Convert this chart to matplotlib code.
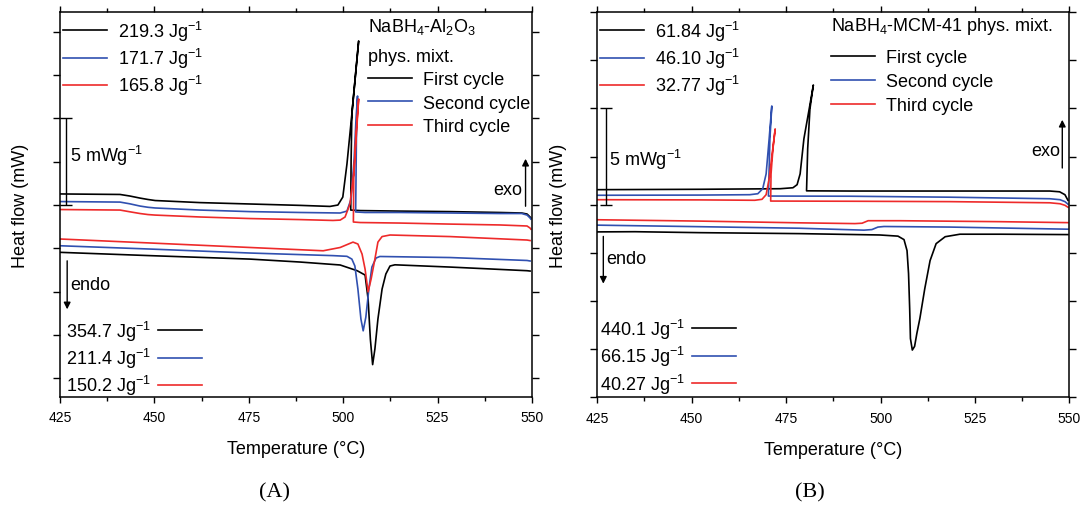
import matplotlib
matplotlib.use('Agg')
import matplotlib.pyplot as plt
from matplotlib.lines import Line2D
from matplotlib.ticker import MultipleLocator
import numpy as np

plt.rcParams['font.family'] = ['Liberation Sans', 'DejaVu Sans']
plt.rcParams['mathtext.fontset'] = 'custom'
plt.rcParams['mathtext.rm'] = 'Liberation Sans'
plt.rcParams['mathtext.it'] = 'Liberation Sans:italic'

BLACK, BLUE, RED = '#000000', '#3050b0', '#ee2a2a'

# ---- (A) NaBH4-Al2O3 : exothermic (cooling) traces, path order ----
a_exo1_T = [425, 440.9, 443.5, 446.2, 448.3, 450.2, 462.1, 475.3, 488.6, 496.5, 498.6, 499.9, 501.0,
            502.3, 504.1, 503.4, 502.3, 502.1, 502.0, 504.5, 515.0, 528.3, 541.5, 547.3, 548.7,
            549.5, 549.7]
a_exo1_v = [0.64, 0.61, 0.52, 0.40, 0.32, 0.26, 0.14, 0.06, -0.02, -0.08, 0.0, 0.46, 2.37,
            5.25, 9.47, 7.85, 5.25, 2.6, -0.29, -0.32, -0.35, -0.38, -0.43, -0.46, -0.52,
            -0.69, -0.75]
a_exo2_T = [425, 440.9, 443.5, 446.2, 448.3, 450.2, 462.1, 475.3, 488.6, 499.2, 501.0, 502.1, 502.9,
            503.4, 503.8, 503.5, 503.4, 503.3, 505.8, 515.0, 528.3, 541.5, 547.3, 548.7, 549.5, 549.7]
a_exo2_v = [0.20, 0.17, 0.07, -0.06, -0.13, -0.17, -0.29, -0.38, -0.43, -0.46, -0.35, 0.35, 2.66,
            4.97, 6.29, 3.81, 1.50, -0.40, -0.43, -0.43, -0.46, -0.49, -0.49, -0.58, -0.75, -0.81]
a_exo3_T = [425, 440.9, 443.5, 446.2, 448.3, 450.2, 462.1, 475.3, 488.6, 497.3, 499.2, 500.5, 501.8,
            502.9, 504.1, 503.3, 502.8, 502.7, 504.5, 515.0, 528.3, 541.5, 548.7, 549.5, 549.7]
a_exo3_v = [-0.26, -0.29, -0.39, -0.49, -0.55, -0.58, -0.69, -0.78, -0.84, -0.89, -0.87, -0.69, 0.06,
            2.08, 6.12, 3.81, 1.50, -0.98, -1.01, -1.04, -1.10, -1.15, -1.21, -1.33, -1.39]
# ---- (A) endothermic (heating) traces ----
a_endo1_T = [425, 448.8, 475.3, 488.6, 499.2, 503.7, 505.8, 506.6, 507.2, 507.8, 508.4, 509.2, 510.3,
             511.3, 512.4, 513.7, 528.3, 548.7, 549.5]
a_endo1_v = [-2.73, -2.92, -3.12, -3.29, -3.46, -3.79, -4.04, -5.43, -7.74, -9.21, -8.31, -6.58, -4.85,
             -3.98, -3.52, -3.45, -3.58, -3.79, -3.81]
a_endo2_T = [425, 448.8, 475.3, 497.3, 501.0, 502.3, 503.1, 503.9, 504.7, 505.3, 506.0, 506.8, 507.6,
             508.7, 509.7, 528.3, 548.7, 549.5]
a_endo2_v = [-2.35, -2.54, -2.77, -2.92, -2.96, -3.12, -3.52, -4.85, -6.58, -7.26, -6.47, -4.85, -3.58,
             -3.06, -2.97, -3.03, -3.20, -3.23]
a_endo3_T = [425, 448.8, 475.3, 494.7, 499.2, 502.6, 503.9, 505.0, 505.8, 506.6, 507.4, 508.4, 509.2,
             510.3, 512.4, 528.3, 548.7, 549.5]
a_endo3_v = [-1.96, -2.19, -2.45, -2.64, -2.45, -2.14, -2.25, -2.83, -3.70, -5.01, -4.27, -3.12, -2.14,
             -1.82, -1.73, -1.82, -2.02, -2.05]

# ---- (B) NaBH4-MCM-41 : exothermic traces ----
b_exo1_T = [425, 452.2, 473.4, 476.8, 477.9, 478.7, 479.7, 481.1, 482.2, 481.3, 480.7, 480.4,
            491.8, 518.3, 544.8, 547.4, 548.8, 549.6]
b_exo1_v = [0.78, 0.80, 0.83, 0.88, 1.04, 1.60, 3.42, 4.97, 6.21, 4.97, 2.90, 0.72,
            0.71, 0.71, 0.71, 0.67, 0.52, 0.23]
b_exo2_T = [425, 452.2, 465.4, 467.5, 468.8, 469.7, 470.5, 471.2, 470.7, 470.5, 470.3,
            491.9, 518.4, 544.8, 547.5, 548.8, 549.6]
b_exo2_v = [0.49, 0.50, 0.52, 0.57, 0.83, 1.60, 3.42, 5.12, 3.42, 1.86, 0.45,
            0.44, 0.39, 0.31, 0.26, 0.16, 0.03]
b_exo3_T = [425, 452.2, 466.7, 468.6, 469.7, 470.5, 471.3, 472.1, 471.5, 471.0, 470.9,
            491.9, 518.4, 544.8, 547.5, 548.8, 549.6]
b_exo3_v = [0.26, 0.25, 0.23, 0.28, 0.52, 1.35, 2.64, 3.93, 2.90, 1.60, 0.19,
            0.18, 0.16, 0.10, 0.05, -0.03, -0.13]
# ---- (B) endothermic traces ----
b_endo1_T = [425, 435.0, 452.2, 478.6, 499.8, 504.6, 506.2, 507.0, 507.4, 507.7, 507.9, 508.4, 509.0,
             509.6, 510.4, 511.7, 513.1, 514.7, 517.1, 521.0, 531.6, 549.6]
b_endo1_v = [-1.41, -1.40, -1.45, -1.50, -1.57, -1.63, -1.81, -2.38, -3.57, -5.38, -6.94, -7.54, -7.35,
             -6.68, -5.90, -4.35, -2.90, -2.02, -1.66, -1.53, -1.53, -1.55]
b_endo2_T = [425, 452.2, 478.6, 495.6, 497.7, 499.3, 500.9, 518.4, 549.6]
b_endo2_v = [-1.06, -1.14, -1.22, -1.32, -1.29, -1.16, -1.13, -1.16, -1.27]
b_endo3_T = [425, 452.2, 478.6, 493.2, 495.1, 496.7, 505.1, 531.6, 549.6]
b_endo3_v = [-0.78, -0.85, -0.94, -0.98, -0.96, -0.83, -0.83, -0.88, -0.93]

a_exo_labels = ['219.3', '171.7', '165.8']
a_endo_labels = ['354.7', '211.4', '150.2']
b_exo_labels = ['61.84', '46.10', '32.77']
b_endo_labels = ['440.1', '66.15', '40.27']
cycle_labels = ['First cycle', 'Second cycle', 'Third cycle']
colors = [BLACK, BLUE, RED]

FS = 13
LW = 1.2


def jg(s):
    return s + r' Jg$^{\mathregular{-1}}$'


def handles():
    return [Line2D([], [], color=c, lw=LW) for c in colors]


def style_axes(ax, ylim):
    ax.set_xlim(425, 550)
    ax.set_ylim(*ylim)
    ax.set_xticks([425, 450, 475, 500, 525, 550])
    ax.xaxis.set_minor_locator(MultipleLocator(12.5))
    ax.set_yticks(np.arange(-10, 10.01, 2.5))
    ax.tick_params(axis='x', which='major', direction='out', length=4.5, width=1, top=True,
                   labelsize=10, pad=5)
    ax.tick_params(axis='x', which='minor', direction='out', length=3, width=1, top=True)
    ax.tick_params(axis='y', which='major', direction='out', length=5, width=1, right=True,
                   labelleft=False)
    for s in ax.spines.values():
        s.set_linewidth(1.1)
    ax.set_xlabel('Temperature (°C)', fontsize=FS, va='center')
    ax.xaxis.set_label_coords(0.5, -0.135)
    ax.set_ylabel('Heat flow (mW)', fontsize=FS, va='center')
    ax.yaxis.set_label_coords(-0.083, 0.5)


def annotate(ax, bar_x, bar_top, txt5, exo, endo):
    ax.errorbar([bar_x], [bar_top / 2], yerr=[bar_top / 2], color='k', lw=1, capsize=4.3,
                capthick=1)
    ax.text(txt5[0], txt5[1], r'5 mWg$^{\mathregular{-1}}$', fontsize=FS, va='center', ha='left')
    # exo arrow (x, y_from, y_to, text x, text y)
    ax.annotate('', xy=(exo[0], exo[2]), xytext=(exo[0], exo[1]),
                arrowprops=dict(arrowstyle='-|>', color='k', lw=1, mutation_scale=10))
    ax.text(exo[3], exo[4], 'exo', fontsize=FS, ha='right', va='center')
    ax.annotate('', xy=(endo[0], endo[2]), xytext=(endo[0], endo[1]),
                arrowprops=dict(arrowstyle='-|>', color='k', lw=1, mutation_scale=10))
    ax.text(endo[3], endo[4], 'endo', fontsize=FS, ha='left', va='center')


leg_kw = dict(frameon=False, fontsize=FS, borderpad=0, borderaxespad=0, handlelength=2.44,
              handletextpad=0.6, labelspacing=0.18, loc='upper left')
cyc_kw = dict(leg_kw, labelspacing=0.37)

fig = plt.figure(figsize=(10.83, 5.06), dpi=100)

# ---------------- panel A ----------------
axA = fig.add_axes([0.0554, 0.2134, 0.4358, 0.7609])
for T, v, c in [(a_exo1_T, a_exo1_v, BLACK), (a_exo2_T, a_exo2_v, BLUE), (a_exo3_T, a_exo3_v, RED),
                (a_endo1_T, a_endo1_v, BLACK), (a_endo2_T, a_endo2_v, BLUE),
                (a_endo3_T, a_endo3_v, RED)]:
    axA.plot(T, v, color=c, lw=LW)
style_axes(axA, (-11.08, 11.14))
annotate(axA, 426.6, 5.0, (427.6, 2.89), (548.3, -0.23, 2.83, 547.3, 0.92),
         (426.9, -3.06, -6.18, 427.6, -4.56))
l1 = axA.legend(handles(), [jg(s) for s in a_exo_labels], bbox_to_anchor=(0.0064, 0.983), **leg_kw)
axA.add_artist(l1)
l2 = axA.legend(handles(), cycle_labels, bbox_to_anchor=(0.6525, 0.8467), **cyc_kw)
axA.add_artist(l2)
axA.legend(handles(), [jg(s) for s in a_endo_labels], bbox_to_anchor=(0.0127, 0.204),
           markerfirst=False, **dict(leg_kw, handletextpad=0.4))
axA.text(0.6525, 0.9636, r'NaBH$_{\mathregular{4}}$-Al$_{\mathregular{2}}$O$_{\mathregular{3}}$',
         transform=axA.transAxes, fontsize=FS, va='center')
axA.text(0.6525, 0.884, 'phys. mixt.', transform=axA.transAxes, fontsize=FS, va='center')

# ---------------- panel B ----------------
axB = fig.add_axes([0.5515, 0.2125, 0.4360, 0.7619])
for T, v, c in [(b_exo1_T, b_exo1_v, BLACK), (b_exo2_T, b_exo2_v, BLUE), (b_exo3_T, b_exo3_v, RED),
                (b_endo1_T, b_endo1_v, BLACK), (b_endo2_T, b_endo2_v, BLUE),
                (b_endo3_T, b_endo3_v, RED)]:
    axB.plot(T, v, color=c, lw=LW)
style_axes(axB, (-10, 10))
annotate(axB, 427.2, 5.0, (428.1, 2.38), (548.1, 1.76, 4.55, 547.5, 2.80),
         (426.6, -1.50, -4.24, 427.3, -2.80))
l3 = axB.legend(handles(), [jg(s) for s in b_exo_labels], bbox_to_anchor=(0.0057, 0.983), **leg_kw)
axB.add_artist(l3)
l4 = axB.legend(handles(), cycle_labels, bbox_to_anchor=(0.4943, 0.9027), **cyc_kw)
axB.add_artist(l4)
axB.legend(handles(), [jg(s) for s in b_endo_labels], bbox_to_anchor=(0.0057, 0.2095),
           markerfirst=False, **dict(leg_kw, handletextpad=0.4))
axB.text(0.4943, 0.9637, r'NaBH$_{\mathregular{4}}$-MCM-41 phys. mixt.',
         transform=axB.transAxes, fontsize=FS, va='center')

fig.text(275 / 1083, 1 - 493 / 506, '(A)', family='Liberation Serif', fontsize=16,
         ha='center', va='center')
fig.text(810 / 1083, 1 - 493 / 506, '(B)', family='Liberation Serif', fontsize=16,
         ha='center', va='center')

fig.savefig('out.png', dpi=100)
